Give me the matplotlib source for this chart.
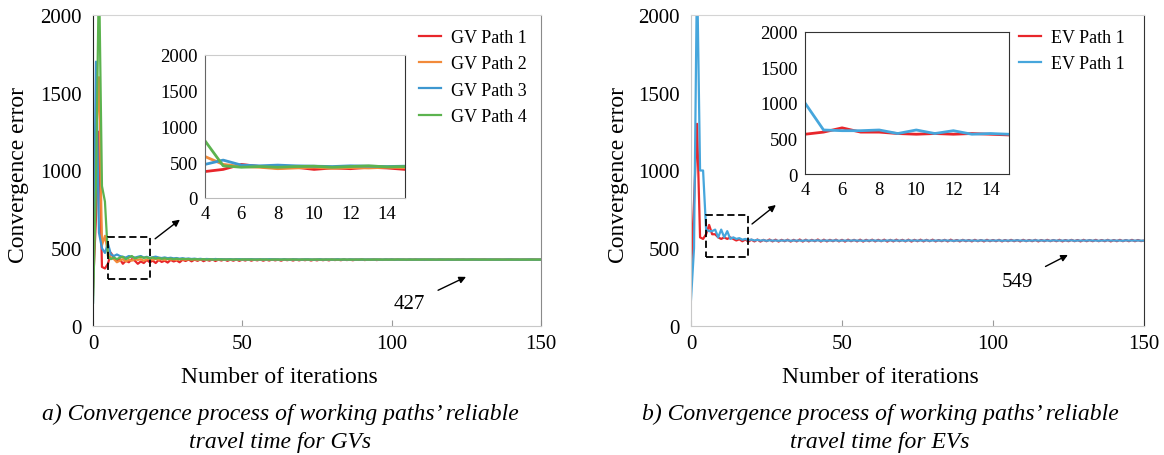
import matplotlib
matplotlib.use("Agg")
import matplotlib.pyplot as plt
from matplotlib.patches import Rectangle

plt.rcParams.update({
    "font.family": "serif",
    "font.serif": ["Liberation Serif", "DejaVu Serif"],
    "font.size": 15,
})

ITER = list(range(151))

# GV working paths (convergence error per iteration)
GV_PATH1 = [
    250, 700, 1250, 380, 370, 400, 470, 440, 420, 430, 400, 420, 410, 430, 420, 400,
    415, 405, 425, 410, 420, 405, 425, 412, 420, 408, 425, 415, 422, 410, 426,
    418, 428, 416, 427, 419, 429, 417, 426, 420, 428, 418, 427, 421, 429, 419,
    427, 420, 428, 419, 427, 421, 429, 420, 427, 422, 428, 420, 427, 421, 428,
    422, 427, 420, 428, 423, 427, 421, 428, 422, 427, 423, 428, 421, 427, 422,
    428, 423, 427, 422, 428, 424, 427, 423, 428, 424, 427, 423, 427, 425, 428,
    424, 427, 425, 428, 424, 427, 425, 427, 426, 428, 425, 427, 426, 427, 425,
    427, 426, 428, 426, 427, 425, 427, 426, 427, 426, 428, 426, 427, 426, 427,
    426, 427, 427, 428, 426, 427, 427, 426, 427, 427, 428, 427, 426, 427, 427,
    427, 426, 427, 427, 428, 427, 427, 426, 427, 427, 427, 428, 427, 427, 427,
]
GV_PATH2 = [
    200, 1200, 1600, 520, 580, 470, 440, 430, 410, 420, 430, 415, 425, 420, 430, 425,
    430, 420, 428, 435, 425, 432, 426, 430, 424, 431, 427, 429, 425, 430, 428,
    426, 430, 427, 429, 425, 428, 430, 426, 429, 427, 428, 426, 429, 427, 428,
    426, 428, 429, 427, 426, 428, 427, 429, 426, 428, 427, 428, 426, 427, 429,
    427, 428, 426, 427, 428, 427, 429, 427, 426, 428, 427, 428, 427, 426, 428,
    427, 428, 427, 426, 427, 428, 427, 427, 428, 426, 427, 428, 427, 427, 428,
    427, 426, 427, 428, 427, 427, 426, 428, 427, 427, 428, 427, 426, 427, 427,
    428, 427, 427, 426, 427, 428, 427, 427, 427, 426, 427, 428, 427, 427, 427,
    427, 428, 427, 427, 426, 427, 427, 428, 427, 427, 427, 426, 427, 427, 428,
    427, 427, 427, 426, 427, 427, 428, 427, 427, 427, 427, 427, 428, 427, 427,
]
GV_PATH3 = [
    150, 1700, 600, 500, 470, 530, 460, 450, 460, 450, 445, 440, 450, 445, 440, 445,
    450, 440, 445, 438, 442, 446, 440, 437, 441, 436, 439, 435, 437, 433, 436,
    432, 434, 431, 433, 430, 432, 429, 431, 430, 428, 431, 429, 430, 428, 429,
    430, 428, 429, 430, 428, 429, 428, 430, 428, 429, 428, 429, 428, 430, 428,
    429, 428, 428, 429, 428, 427, 429, 428, 428, 427, 429, 428, 428, 427, 428,
    429, 427, 428, 428, 427, 428, 429, 427, 428, 427, 428, 428, 427, 428, 427,
    428, 427, 428, 427, 428, 427, 427, 428, 427, 428, 427, 427, 428, 427, 427,
    428, 427, 427, 428, 427, 427, 427, 428, 427, 427, 427, 428, 427, 427, 427,
    427, 428, 427, 427, 427, 427, 428, 427, 427, 427, 427, 427, 428, 427, 427,
    427, 427, 427, 428, 427, 427, 427, 427, 427, 427, 428, 427, 427, 427, 427,
]
GV_PATH4 = [
    150, 900, 2300, 900, 800, 450, 430, 440, 430, 440, 445, 430, 440, 450, 435, 440,
    445, 438, 442, 436, 440, 434, 438, 432, 436, 431, 434, 430, 433, 429, 432,
    430, 431, 428, 430, 429, 428, 430, 427, 429, 428, 427, 429, 428, 427, 428,
    428, 427, 428, 427, 428, 428, 427, 428, 427, 427, 428, 427, 428, 427, 427,
    428, 427, 427, 428, 427, 427, 428, 427, 427, 427, 428, 427, 427, 427, 428,
    427, 427, 427, 428, 427, 427, 427, 427, 428, 427, 427, 427, 427, 427, 428,
    427, 427, 427, 427, 428, 427, 427, 427, 427, 427, 427, 428, 427, 427, 427,
    427, 427, 427, 427, 427, 428, 427, 427, 427, 427, 427, 427, 427, 428, 427,
    427, 427, 427, 427, 427, 427, 427, 428, 427, 427, 427, 427, 427, 427, 427,
    427, 427, 427, 427, 427, 427, 427, 427, 427, 427, 427, 427, 427, 427, 427,
]

# EV working paths
EV_PATH1 = [
    330, 800, 1300, 570, 560, 590, 650, 590, 590, 570, 560, 570, 560, 570, 560, 550,
    558, 545, 556, 543, 555, 544, 556, 543, 554, 545, 556, 544, 555, 543, 554,
    545, 555, 543, 554, 544, 556, 543, 555, 544, 554, 545, 556, 543, 555, 544,
    554, 545, 555, 544, 554, 543, 555, 545, 554, 544, 555, 543, 554, 545, 555,
    544, 554, 545, 555, 543, 554, 544, 555, 545, 554, 544, 555, 543, 554, 545,
    555, 544, 554, 545, 555, 544, 553, 545, 554, 544, 555, 545, 553, 544, 554,
    545, 553, 544, 554, 545, 553, 544, 554, 545, 553, 545, 554, 544, 553, 545,
    554, 545, 553, 544, 554, 545, 553, 545, 554, 544, 553, 545, 554, 545, 553,
    545, 554, 544, 553, 545, 554, 545, 553, 544, 554, 545, 553, 545, 554, 545,
    553, 545, 554, 544, 553, 545, 554, 545, 553, 545, 554, 545, 553, 546, 549,
]
EV_PATH2 = [
    170, 500, 2300, 1000, 1000, 620, 610, 610, 620, 570, 620, 570, 610, 560, 570, 560,
    565, 555, 560, 552, 556, 550, 554, 549, 552, 548, 551, 549, 550, 548, 550,
    549, 551, 548, 550, 549, 550, 548, 551, 549, 550, 549, 551, 548, 550, 549,
    550, 549, 551, 548, 550, 549, 550, 549, 551, 549, 550, 548, 550, 549, 551,
    549, 550, 548, 550, 549, 551, 549, 550, 549, 550, 548, 551, 549, 550, 549,
    550, 549, 551, 548, 550, 549, 550, 549, 551, 549, 550, 548, 550, 549, 551,
    549, 550, 549, 550, 548, 551, 549, 550, 549, 550, 549, 551, 548, 550, 549,
    550, 549, 551, 549, 550, 548, 550, 549, 551, 549, 550, 549, 550, 548, 551,
    549, 550, 549, 550, 549, 551, 548, 550, 549, 550, 549, 551, 549, 550, 548,
    550, 549, 551, 549, 550, 549, 550, 548, 551, 549, 550, 549, 550, 549, 549,
]

GV_LABELS = ["GV Path 1", "GV Path 2", "GV Path 3", "GV Path 4"]
GV_COLORS = ["#e8262b", "#f28a3a", "#3d97d0", "#5cb34f"]
EV_LABELS = ["EV Path 1", "EV Path 1"]
EV_COLORS = ["#e8262b", "#46a6dc"]

GV_FINAL = 427
EV_FINAL = 549

CAPTION_A = ["a) Convergence process of working paths\u2019 reliable", "travel time for GVs"]
CAPTION_B = ["b) Convergence process of working paths\u2019 reliable", "travel time for EVs"]

W, H = 1164, 456
fig = plt.figure(figsize=(W / 100, H / 100), dpi=100)


def px_axes(x0, x1, y0, y1):
    # pixel box (left, right, top, bottom) -> figure fraction
    return fig.add_axes([x0 / W, 1 - y1 / H, (x1 - x0) / W, (y1 - y0) / H])


def style_main(ax, right_color, xlab_x, ylab_x):
    ax.set_xlim(0, 150)
    ax.set_ylim(0, 2000)
    ax.set_xticks([0, 50, 100, 150])
    ax.set_yticks([0, 500, 1000, 1500, 2000])
    ax.spines["left"].set_color("#c8c8c8")
    ax.spines["bottom"].set_color("#c8c8c8")
    ax.spines["top"].set_color("#d4d4d4")
    ax.spines["right"].set_color(right_color)
    ax.tick_params(axis="x", direction="in", length=4, color="#9a9a9a",
                   labelsize=15, pad=6)
    ax.tick_params(axis="y", length=0, labelsize=15, pad=8)
    ax.set_xlabel("Number of iterations", fontsize=17, va="center")
    ax.set_ylabel("Convergence error", fontsize=17, va="center")
    ax.xaxis.set_label_coords(xlab_x, -0.161)
    ax.yaxis.set_label_coords(ylab_x, 0.49)


def style_inset(ax):
    ax.set_xlim(4, 15)
    ax.set_ylim(0, 2000)
    ax.set_xticks([4, 6, 8, 10, 12, 14])
    ax.set_yticks([0, 500, 1000, 1500, 2000])
    ax.tick_params(length=0, labelsize=13.5)
    ax.tick_params(axis="y", pad=5)
    ax.tick_params(axis="x", pad=5)


def mark_zoom(ax, y0, arrow_from, arrow_to):
    ax.add_patch(Rectangle((5, y0), 14, 270, fill=False, ls=(0, (4, 2)),
                           lw=1.3, ec="black", zorder=5))
    ax.annotate("", xy=arrow_to, xytext=arrow_from,
                arrowprops=dict(arrowstyle="-|>", color="black", lw=1,
                                mutation_scale=10, shrinkA=0, shrinkB=0))


def add_legend(ax, x_px):
    ax.legend(loc="upper left", bbox_to_anchor=(x_px / W, 1 - 30 / H),
              bbox_transform=fig.transFigure, frameon=False, fontsize=13,
              handlelength=1.2, handletextpad=0.55, labelspacing=0.52,
              borderpad=0, borderaxespad=0)


# ---- a) GVs ----
ax1 = px_axes(93, 541, 16, 327)
gv = [GV_PATH1, GV_PATH2, GV_PATH3, GV_PATH4]
for vals, c, lab in zip(gv, GV_COLORS, GV_LABELS):
    ax1.plot(ITER, vals, color=c, lw=1.6, label=lab)
style_main(ax1, "#8a8a8a", 0.415, -0.167)
ax1.spines["left"].set_color("#222222")
mark_zoom(ax1, 300, (20.8, 561), (29.1, 684))
ax1.annotate(str(GV_FINAL), xy=(124.9, 316), xytext=(106, 142),
             ha="center", va="center", fontsize=15,
             arrowprops=dict(arrowstyle="-|>", color="black", lw=1,
                             mutation_scale=10, shrinkA=8, shrinkB=0))
add_legend(ax1, 419)

in1 = px_axes(205, 405, 56, 199)
for vals, c in zip(gv, GV_COLORS):
    in1.plot(ITER, vals, color=c, lw=2)
style_inset(in1)
in1.spines["left"].set_color("#666666")
in1.spines["bottom"].set_color("#bbbbbb")
in1.spines["top"].set_color("#cccccc")
in1.spines["right"].set_color("#333333")

# ---- b) EVs ----
ax2 = px_axes(691, 1144, 16, 327)
ev = [EV_PATH1, EV_PATH2]
for vals, c, lab in zip(ev, EV_COLORS, EV_LABELS):
    ax2.plot(ITER, vals, color=c, lw=1.6, label=lab)
style_main(ax2, "#333333", 0.419, -0.161)
mark_zoom(ax2, 445, (20.2, 656), (28.1, 778))
ax2.annotate(str(EV_FINAL), xy=(124.8, 457), xytext=(108, 289),
             ha="center", va="center", fontsize=15,
             arrowprops=dict(arrowstyle="-|>", color="black", lw=1,
                             mutation_scale=10, shrinkA=8, shrinkB=0))
add_legend(ax2, 1019)

in2 = px_axes(805, 1009, 33, 175)
for vals, c in zip(ev, EV_COLORS):
    in2.plot(ITER, vals, color=c, lw=2)
style_inset(in2)
for s in in2.spines.values():
    s.set_color("#333333")

# captions
for lines, cx in ((CAPTION_A, 280), (CAPTION_B, 880)):
    fig.text(cx / W, 1 - 414 / H, lines[0], ha="center", va="center",
             fontsize=17, style="italic")
    fig.text(cx / W, 1 - 443 / H, lines[1], ha="center", va="center",
             fontsize=17, style="italic")

fig.savefig("out.png", dpi=100)
